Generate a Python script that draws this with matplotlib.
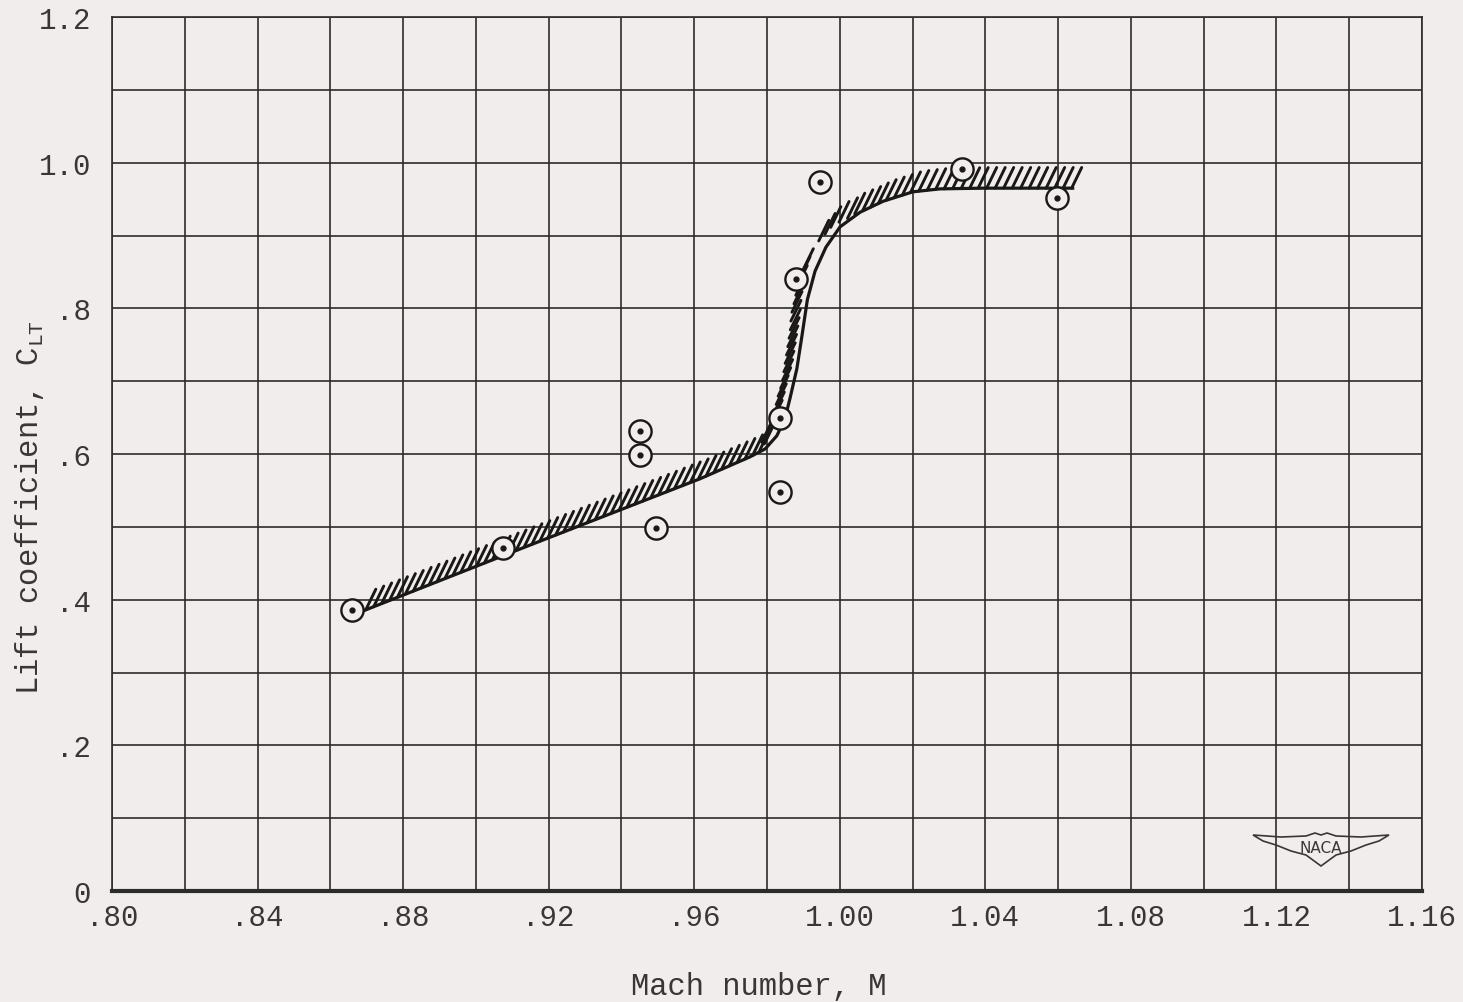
import numpy as np
import matplotlib
matplotlib.use('Agg')
import matplotlib.pyplot as plt
from matplotlib.collections import LineCollection
from matplotlib.patches import Polygon
from matplotlib.transforms import Affine2D

# Puntos de ensayo
mach_pts = [0.866, 0.9074, 0.9451, 0.9451, 0.9495, 0.9836, 0.9836, 0.9880, 0.9946, 1.0336, 1.0597]
clt_pts = [0.386, 0.471, 0.632, 0.599, 0.499, 0.649, 0.548, 0.840, 0.973, 0.991, 0.951]

# Curva de ajuste
curve_mach = [0.8682, 0.9149, 0.9616, 0.9698, 0.9753, 0.9795, 0.9827, 0.9849, 0.9863, 0.9882,
              0.9896, 0.9911, 0.9932, 0.9962, 1.0001, 1.0056, 1.0119, 1.0201, 1.0275, 1.0394, 1.0640]
curve_clt = [0.383, 0.475, 0.566, 0.584, 0.596, 0.607, 0.625, 0.648, 0.676, 0.717,
             0.762, 0.812, 0.851, 0.884, 0.912, 0.932, 0.947, 0.960, 0.964, 0.965, 0.965]

xticks = [0.80, 0.84, 0.88, 0.92, 0.96, 1.00, 1.04, 1.08, 1.12, 1.16]
xtick_labels = ['.80', '.84', '.88', '.92', '.96', '1.00', '1.04', '1.08', '1.12', '1.16']
yticks = [0.0, 0.2, 0.4, 0.6, 0.8, 1.0, 1.2]
ytick_labels = ['0', '.2', '.4', '.6', '.8', '1.0', '1.2']

bg = '#f1eded'
ink = '#2e2b2b'
txt = '#3a3636'
font = 'Liberation Mono'

plt.rcParams['font.family'] = [font, 'DejaVu Sans']
plt.rcParams['mathtext.fontset'] = 'custom'
plt.rcParams['mathtext.rm'] = font

fig = plt.figure(figsize=(14.63, 10.03), dpi=100, facecolor=bg)
ax = fig.add_axes([112 / 1463, 1 - 892 / 1003, 1310 / 1463, 874 / 1003])
ax.set_facecolor(bg)
ax.set_xlim(0.80, 1.16)
ax.set_ylim(0, 1.2)

ax.set_xticks(xticks)
ax.set_xticklabels(xtick_labels)
ax.set_xticks(np.arange(0.80, 1.161, 0.02), minor=True)
ax.set_yticks(yticks)
ax.set_yticklabels(ytick_labels)
ax.set_yticks(np.arange(0, 1.21, 0.1), minor=True)
ax.tick_params(which='both', length=0, labelsize=21, labelcolor=txt)
ax.tick_params(axis='x', pad=9)
ax.tick_params(axis='y', pad=15)
ax.grid(True, which='both', color=ink, lw=1.2)
ax.set_axisbelow(True)
for s in ['top', 'right', 'left']:
    ax.spines[s].set_color(ink)
    ax.spines[s].set_linewidth(1.2)
ax.spines['bottom'].set_color(ink)
ax.spines['bottom'].set_linewidth(3)

# Curva
ax.plot(curve_mach, curve_clt, color='#1a1717', lw=2.3, zorder=3,
        solid_joinstyle='round')

# Rayado del lado superior de la curva
pts = ax.transData.transform(np.column_stack([curve_mach, curve_clt]))
seg_len = np.hypot(*np.diff(pts, axis=0).T)
s = np.concatenate([[0], np.cumsum(seg_len)])
ss = np.arange(6, s[-1] + 5, 8.5)
px = np.interp(ss, s, pts[:, 0])
py = np.interp(ss, s, pts[:, 1])
tx = np.gradient(px)
ty = np.gradient(py)
nrm = np.hypot(tx, ty)
tx, ty = tx / nrm, ty / nrm
ang = np.deg2rad(64)
d = np.array([np.cos(ang), np.sin(ang)])
L = 23
inv = ax.transData.inverted()
segs = []
for x0, y0, a, b in zip(px, py, tx, ty):
    n = np.array([-b, a])
    dd = d if d @ n >= 0 else -d
    p = dd @ n
    gap = max(0.0, 11 * (1 - p / 0.6))
    x1, y1 = x0 + gap * n[0], y0 + gap * n[1]
    p0 = inv.transform((x1, y1))
    p1 = inv.transform((x1 + L * dd[0], y1 + L * dd[1]))
    segs.append([p0, p1])
ax.add_collection(LineCollection(segs, colors='#1a1717', linewidths=2.1, zorder=3,
                                 capstyle='round'))

# Puntos
ax.plot(mach_pts, clt_pts, 'o', ms=16, mfc=bg, mec='#1a1717', mew=1.7, zorder=4)
ax.plot(mach_pts, clt_pts, 'o', ms=3.5, color='#1a1717', zorder=5)

# Etiquetas
fig.text(759 / 1463, 1 - 987 / 1003, 'Mach number, M', ha='center', va='center',
         fontsize=22, color=txt)
fig.text(30 / 1463, 1 - 508 / 1003, r'Lift coefficient, $\mathregular{C_{LT}}$',
         ha='center', va='center', rotation=90, fontsize=22, color=txt)

# Logo NACA
wing = [(-68, 12), (-40, 10), (-15, 11), (-6, 14), (0, 12), (6, 14), (15, 11), (40, 10),
        (68, 12), (58, 6), (45, 2), (30, -4), (15, -8), (0, -19), (-15, -8), (-30, -4),
        (-45, 2), (-58, 6)]
logo_tr = Affine2D().translate(1321, 1003 - 848) + fig.dpi_scale_trans.inverted() + \
    Affine2D().scale(1 / 14.63, 1 / 10.03) + fig.transFigure
fig.patches.append(Polygon(wing, closed=True, fill=False, ec=txt, lw=1.2,
                           transform=logo_tr))
fig.text(1321 / 1463, 1 - 849 / 1003, 'NACA', ha='center', va='center', fontsize=11,
         family='DejaVu Sans', color=txt)

plt.savefig('out.png', dpi=100, facecolor=bg)
plt.close()
